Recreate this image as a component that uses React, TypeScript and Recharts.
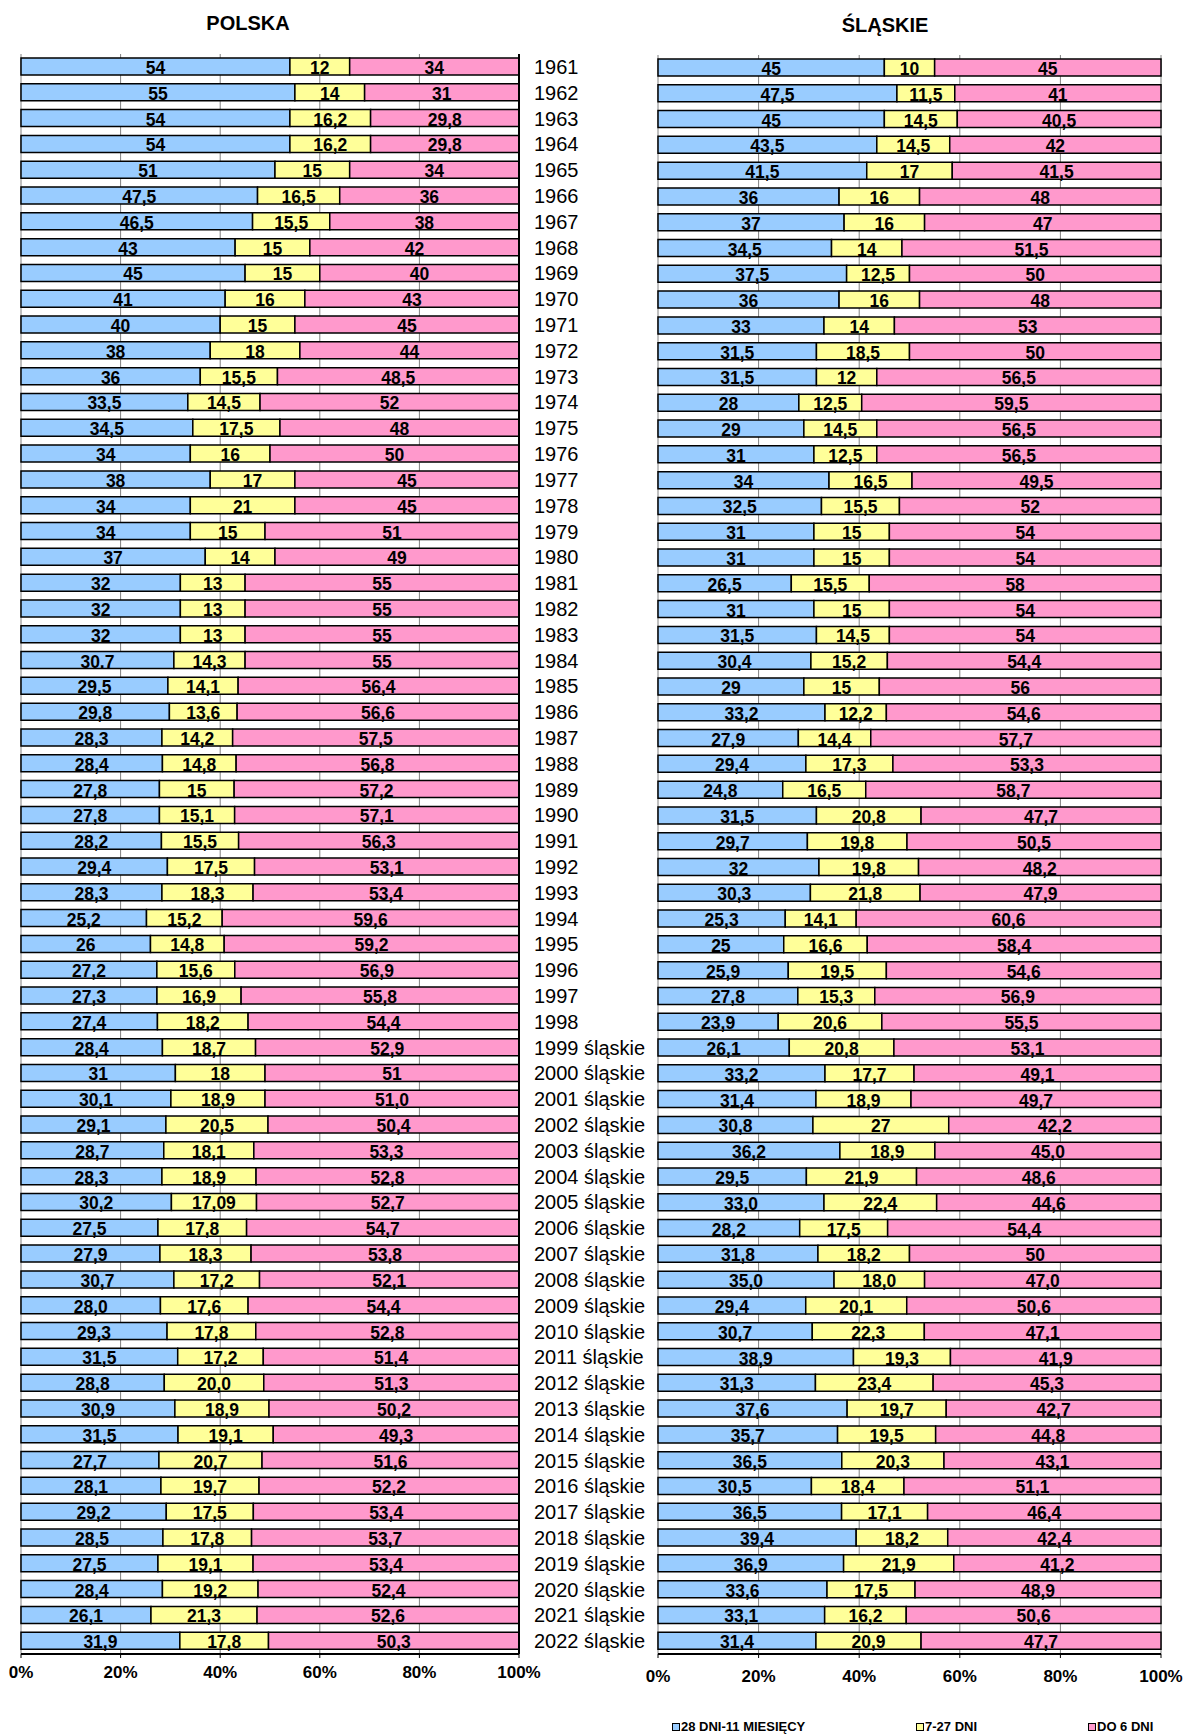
import { BarChart, Bar, XAxis, YAxis, CartesianGrid, LabelList } from 'recharts';

const years = [
  '1961', '1962', '1963', '1964', '1965', '1966', '1967', '1968', '1969', '1970',
  '1971', '1972', '1973', '1974', '1975', '1976', '1977', '1978', '1979', '1980',
  '1981', '1982', '1983', '1984', '1985', '1986', '1987', '1988', '1989', '1990',
  '1991', '1992', '1993', '1994', '1995', '1996', '1997', '1998',
  '1999 śląskie', '2000 śląskie', '2001 śląskie', '2002 śląskie', '2003 śląskie',
  '2004 śląskie', '2005 śląskie', '2006 śląskie', '2007 śląskie', '2008 śląskie',
  '2009 śląskie', '2010 śląskie', '2011 śląskie', '2012 śląskie', '2013 śląskie',
  '2014 śląskie', '2015 śląskie', '2016 śląskie', '2017 śląskie', '2018 śląskie',
  '2019 śląskie', '2020 śląskie', '2021 śląskie', '2022 śląskie',
];

// POLSKA
const plLong = [
  '54', '55', '54', '54', '51', '47,5', '46,5', '43', '45', '41',
  '40', '38', '36', '33,5', '34,5', '34', '38', '34', '34', '37',
  '32', '32', '32', '30.7', '29,5', '29,8', '28,3', '28,4', '27,8', '27,8',
  '28,2', '29,4', '28,3', '25,2', '26', '27,2', '27,3', '27,4',
  '28,4', '31', '30,1', '29,1', '28,7', '28,3', '30,2', '27,5', '27,9', '30,7',
  '28,0', '29,3', '31,5', '28,8', '30,9', '31,5', '27,7', '28,1', '29,2', '28,5',
  '27,5', '28,4', '26,1', '31,9',
];
const plMid = [
  '12', '14', '16,2', '16,2', '15', '16,5', '15,5', '15', '15', '16',
  '15', '18', '15,5', '14,5', '17,5', '16', '17', '21', '15', '14',
  '13', '13', '13', '14,3', '14,1', '13,6', '14,2', '14,8', '15', '15,1',
  '15,5', '17,5', '18,3', '15,2', '14,8', '15,6', '16,9', '18,2',
  '18,7', '18', '18,9', '20,5', '18,1', '18,9', '17,09', '17,8', '18,3', '17,2',
  '17,6', '17,8', '17,2', '20,0', '18,9', '19,1', '20,7', '19,7', '17,5', '17,8',
  '19,1', '19,2', '21,3', '17,8',
];
const plShort = [
  '34', '31', '29,8', '29,8', '34', '36', '38', '42', '40', '43',
  '45', '44', '48,5', '52', '48', '50', '45', '45', '51', '49',
  '55', '55', '55', '55', '56,4', '56,6', '57,5', '56,8', '57,2', '57,1',
  '56,3', '53,1', '53,4', '59,6', '59,2', '56,9', '55,8', '54,4',
  '52,9', '51', '51,0', '50,4', '53,3', '52,8', '52,7', '54,7', '53,8', '52,1',
  '54,4', '52,8', '51,4', '51,3', '50,2', '49,3', '51,6', '52,2', '53,4', '53,7',
  '53,4', '52,4', '52,6', '50,3',
];

// ŚLĄSKIE
const slLong = [
  '45', '47,5', '45', '43,5', '41,5', '36', '37', '34,5', '37,5', '36',
  '33', '31,5', '31,5', '28', '29', '31', '34', '32,5', '31', '31',
  '26,5', '31', '31,5', '30,4', '29', '33,2', '27,9', '29,4', '24,8', '31,5',
  '29,7', '32', '30,3', '25,3', '25', '25,9', '27,8', '23,9',
  '26,1', '33,2', '31,4', '30,8', '36,2', '29,5', '33,0', '28,2', '31,8', '35,0',
  '29,4', '30,7', '38,9', '31,3', '37,6', '35,7', '36,5', '30,5', '36,5', '39,4',
  '36,9', '33,6', '33,1', '31,4',
];
const slMid = [
  '10', '11,5', '14,5', '14,5', '17', '16', '16', '14', '12,5', '16',
  '14', '18,5', '12', '12,5', '14,5', '12,5', '16,5', '15,5', '15', '15',
  '15,5', '15', '14,5', '15,2', '15', '12,2', '14,4', '17,3', '16,5', '20,8',
  '19,8', '19,8', '21,8', '14,1', '16,6', '19,5', '15,3', '20,6',
  '20,8', '17,7', '18,9', '27', '18,9', '21,9', '22,4', '17,5', '18,2', '18,0',
  '20,1', '22,3', '19,3', '23,4', '19,7', '19,5', '20,3', '18,4', '17,1', '18,2',
  '21,9', '17,5', '16,2', '20,9',
];
const slShort = [
  '45', '41', '40,5', '42', '41,5', '48', '47', '51,5', '50', '48',
  '53', '50', '56,5', '59,5', '56,5', '56,5', '49,5', '52', '54', '54',
  '58', '54', '54', '54,4', '56', '54,6', '57,7', '53,3', '58,7', '47,7',
  '50,5', '48,2', '47,9', '60,6', '58,4', '54,6', '56,9', '55,5',
  '53,1', '49,1', '49,7', '42,2', '45,0', '48,6', '44,6', '54,4', '50', '47,0',
  '50,6', '47,1', '41,9', '45,3', '42,7', '44,8', '43,1', '51,1', '46,4', '42,4',
  '41,2', '48,9', '50,6', '47,7',
];

const xTicks = [0, 0.2, 0.4, 0.6, 0.8, 1];
const seriesNames = ['28 DNI-11 MIESIĘCY', '7-27 DNI', 'DO 6 DNI'];
const colors = ['#99ccff', '#ffff99', '#ff99cc'];

const num = (s: string) => parseFloat(s.replace(',', '.'));

const build = (a: string[], b: string[], c: string[]) =>
  years.map((year, i) => ({
    year,
    a: num(a[i]), b: num(b[i]), c: num(c[i]),
    la: a[i], lb: b[i], lc: c[i],
  }));

const polskaData = build(plLong, plMid, plShort);
const slaskieData = build(slLong, slMid, slShort);

const FONT = "'Liberation Sans', Arial, sans-serif";

const SegLabel = (props: any) => {
  const { x, y, width, height, value } = props;
  return (
    <text
      x={x + width / 2}
      y={y + height / 2 + 1.5}
      textAnchor="middle"
      dominantBaseline="central"
      fontFamily={FONT}
      fontWeight="bold"
      fontSize={17.5}
      fill="#000"
    >
      {value}
    </text>
  );
};

// small marks at the category boundaries on the left edge (Excel style)
const BoundaryTick = (props: any) => {
  const { x, y, payload, index } = props;
  const half = payload?.offset || 12.9;
  return (
    <g>
      <line x1={x - 5} x2={x} y1={y - half} y2={y - half} stroke="#000" />
      {index === years.length - 1 && (
        <line x1={x - 5} x2={x} y1={y + half} y2={y + half} stroke="#000" />
      )}
    </g>
  );
};

const pct = (v: number) => `${Math.round(v * 100)}%`;

function StackChart({ data, width, showYears, margin, xHeight, tickMargin, yWidth }: any) {
  return (
    <BarChart
      width={width}
      height={1700}
      data={data}
      layout="vertical"
      stackOffset="expand"
      barCategoryGap="36%"
      margin={margin}
    >
      <CartesianGrid horizontal={false} stroke="#808080" strokeWidth={1} />
      <XAxis
        type="number"
        domain={[0, 1]}
        ticks={xTicks}
        tickFormatter={pct}
        height={xHeight}
        axisLine={{ stroke: '#000', strokeWidth: 2 }}
        tickLine={{ stroke: '#000' }}
        tickSize={4}
        tickMargin={tickMargin}
        tick={{ fill: '#000', fontSize: 17, fontWeight: 'bold', fontFamily: FONT }}
        interval={0}
      />
      <XAxis
        xAxisId="top"
        type="number"
        orientation="top"
        domain={[0, 1]}
        height={0}
        tick={false}
        tickLine={false}
        axisLine={{ stroke: '#000', strokeWidth: 2 }}
      />
      <YAxis
        type="category"
        dataKey="year"
        orientation="right"
        width={yWidth}
        axisLine={{ stroke: '#000', strokeWidth: 2 }}
        tickLine={false}
        tickSize={6}
        tickMargin={9}
        interval={0}
        tick={showYears ? { fill: '#000', fontSize: 20, fontFamily: FONT } : false}
      />
      <YAxis
        yAxisId="b"
        type="category"
        dataKey="year"
        orientation="left"
        width={0}
        tickSize={0}
        tickMargin={0}
        tickLine={false}
        interval={0}
        tick={<BoundaryTick />}
        axisLine={{ stroke: '#000', strokeWidth: 2 }}
      />
      {['a', 'b', 'c'].map((k, i) => (
        <Bar
          key={k}
          dataKey={k}
          name={seriesNames[i]}
          stackId="s"
          barSize={17}
          fill={colors[i]}
          stroke="#000"
          strokeWidth={1.5}
          isAnimationActive={false}
        >
          <LabelList dataKey={'l' + k} content={SegLabel} />
        </Bar>
      ))}
    </BarChart>
  );
}

export default function App() {
  return (
    <div
      style={{
        position: 'absolute', left: 0, top: 0, width: 1184, height: 1735,
        background: '#fff', fontFamily: FONT,
      }}
    >
      <div style={{
        position: 'absolute', left: 148, width: 200, top: 10, textAlign: 'center',
        fontWeight: 'bold', fontSize: 20, lineHeight: '26px',
      }}>POLSKA</div>
      <div style={{
        position: 'absolute', left: 785, width: 200, top: 12, textAlign: 'center',
        fontWeight: 'bold', fontSize: 20, lineHeight: '26px',
      }}>ŚLĄSKIE</div>

      <div style={{ position: 'absolute', left: 0, top: 0 }}>
        <StackChart
          data={polskaData}
          width={660}
          yWidth={141}
          showYears
          margin={{ top: 54, right: 0, bottom: 0, left: 21 }}
          xHeight={46}
          tickMargin={8}
        />
      </div>
      <div style={{ position: 'absolute', left: 600, top: 0 }}>
        <StackChart
          data={slaskieData}
          width={584}
          yWidth={0}
          showYears={false}
          margin={{ top: 55, right: 23, bottom: 0, left: 58 }}
          xHeight={46}
          tickMargin={12}
        />
      </div>

      {seriesNames.map((name, i) => (
        <div
          key={name}
          style={{
            position: 'absolute', top: 1719, left: [672, 916, 1088][i],
            display: 'flex', alignItems: 'center', whiteSpace: 'nowrap',
            fontWeight: 'bold', fontSize: 13, lineHeight: '16px',
          }}
        >
          <span style={{
            display: 'inline-block', width: 6, height: 6, background: colors[i],
            border: '1px solid #000', marginRight: 1,
          }} />
          {name}
        </div>
      ))}
    </div>
  );
}
